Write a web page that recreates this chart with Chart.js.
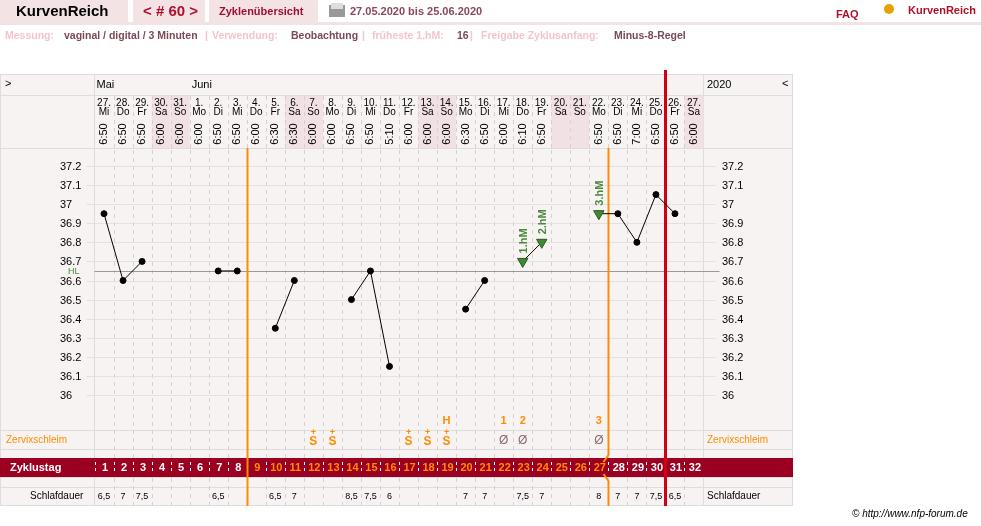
<!DOCTYPE html>
<html><head><meta charset="utf-8">
<script src="https://cdn.jsdelivr.net/npm/chart.js@4"></script>
<style>body{margin:0;background:#fff}canvas{display:block}</style>
</head><body><canvas id="c" width="981" height="526"></canvas>
<script>
const cycleDays = Array.from({length:32},(_,i)=>String(i+1));
const dates = ['27.','28.','29.','30.','31.','1.','2.','3.','4.','5.','6.','7.','8.','9.','10.','11.','12.','13.','14.','15.','16.','17.','18.','19.','20.','21.','22.','23.','24.','25.','26.','27.'];
const weekdays = ['Mi','Do','Fr','Sa','So','Mo','Di','Mi','Do','Fr','Sa','So','Mo','Di','Mi','Do','Fr','Sa','So','Mo','Di','Mi','Do','Fr','Sa','So','Mo','Di','Mi','Do','Fr','Sa'];
const times = ['6:50','6:50','6:50','6:00','6:00','6:00','6:50','6:50','6:00','6:30','6:30','6:00','6:00','6:50','6:50','5:10','6:00','6:00','6:00','6:30','6:50','6:00','6:10','6:50','','','6:50','6:50','7:00','6:50','6:50','6:00'];
const temps = [36.95,36.6,36.7,null,null,null,36.65,36.65,null,36.35,36.6,null,null,36.5,36.65,36.15,null,null,null,36.45,36.6,null,36.7,36.8,null,null,36.95,36.95,36.8,37.05,36.95,null];
const hmDays = {23:'1.hM',24:'2.hM',27:'3.hM'};
const sleep = ['6,5','7','7,5','','','','6,5','','','6,5','7','','','8,5','7,5','6','','','','7','7','','7,5','7','','','8','7','7','7,5','6,5',''];
const mucus = ['','','','','','','','','','','','S+','S+','','','','S+','S+','S+','','','Ø','Ø','','','','Ø','','','','',''];
const marks = {19:'H',22:'1',23:'2',27:'3'};
const yTicks = [36,36.1,36.2,36.3,36.4,36.5,36.6,36.7,36.8,36.9,37,37.1,37.2];
const coverline = 36.65;
const weekendIdx = [3,4,10,11,17,18,24,25,31];

const F='"Liberation Sans", Arial, sans-serif';
const ORANGE='#ff8c00', DRED='#9b0020', GRID='#d8d0d0';

const deco = {
 id:'deco',
 beforeDraw(ch){
  const c=ch.ctx, x=ch.scales.x, y=ch.scales.y, a=ch.chartArea;
  const cw=x.getPixelForValue(1)-x.getPixelForValue(0);
  const L=a.left, R=a.right;
  c.save();
  c.fillStyle='#fff';c.fillRect(0,0,981,526);
  c.fillStyle='#f4e3e5';
  c.fillRect(0,0,128,22);c.fillRect(133,0,72,22);c.fillRect(209,0,109,22);
  c.fillRect(0,22,981,3);
  c.textBaseline='middle';
  c.font='bold 15px '+F;c.fillStyle='#000';c.fillText('KurvenReich',16,12);
  c.fillStyle='#b0102a';c.fillText('< # 60 >',143,12);
  c.font='bold 11px '+F;c.fillStyle='#a01030';c.fillText('Zyklenübersicht',219,12);
  c.fillStyle='#999';c.fillRect(329,5,16,12);c.fillStyle='#ddd';c.fillRect(331,3,12,6);
  c.fillStyle='#8a4858';c.fillText('27.05.2020 bis 25.06.2020',350,12);
  c.fillStyle='#b0102a';c.fillText('FAQ',836,15);c.fillText('KurvenReich',908,11);
  c.fillStyle='#e8a000';c.beginPath();c.arc(889,9,5,0,7);c.fill();
  c.font='bold 10.5px '+F;
  const info=[['Messung:',5,'#f4c4cc'],['vaginal / digital / 3 Minuten',64,'#7a4a55'],['|',205,'#f4c4cc'],['Verwendung:',212,'#f4c4cc'],['Beobachtung',291,'#7a4a55'],['|',362,'#f4c4cc'],['früheste 1.hM:',372,'#f4c4cc'],['16',457,'#7a4a55'],['|',470,'#f4c4cc'],['Freigabe Zyklusanfang:',481,'#f4c4cc'],['Minus-8-Regel',614,'#7a4a55']];
  info.forEach(t=>{c.fillStyle=t[2];c.fillText(t[0],t[1],36);});
  c.fillStyle='#f8f3f3';c.fillRect(0,74,793,432);
  c.strokeStyle='#ddd';c.lineWidth=1;
  c.strokeRect(0.5,74.5,792,431);
  [95.5,148.5,430.5,449.5,458.5,477.5,487.5].forEach(v=>{c.beginPath();c.moveTo(0,v);c.lineTo(793,v);c.stroke();});
  [L,R].forEach(v=>{c.beginPath();c.moveTo(v,74);c.lineTo(v,506);c.stroke();});
  c.fillStyle='#f2e1e4';
  weekendIdx.forEach(i=>{const px=x.getPixelForValue(i);c.fillRect(px-cw/2,96,cw,52);});
  c.fillStyle='#000';c.font='11px '+F;c.textBaseline='middle';
  c.fillText('>',5,84);c.fillText('Mai',L+2,85);c.fillText('Juni',x.getPixelForValue(5)-cw/2+2,85);
  c.fillText('2020',707,85);c.fillText('<',782,84);
  c.textAlign='center';c.font='10px '+F;
  for(let i=0;i<32;i++){
   const px=x.getPixelForValue(i);
   c.fillStyle='#000';
   c.fillText(dates[i],px,103);c.fillText(weekdays[i],px,112);
   if(times[i]){c.save();c.translate(px,134);c.rotate(-Math.PI/2);c.font='11px '+F;c.fillText(times[i],0,0);c.restore();}
  }
  c.strokeStyle=GRID;c.setLineDash([4,4]);
  for(let i=1;i<32;i++){
   const bx=Math.round(L+i*cw)+0.5;
   c.beginPath();c.moveTo(bx,96);c.lineTo(bx,148);c.moveTo(bx,150);c.lineTo(bx,506);c.stroke();
  }
  c.setLineDash([]);
  c.font='11px '+F;
  yTicks.forEach(t=>{
   const py=Math.round(y.getPixelForValue(t))+0.5;
   c.strokeStyle='#e6e0e0';c.beginPath();c.moveTo(L-8,py);c.lineTo(R+12,py);c.stroke();
   const lbl=String(t);
   c.fillStyle='#000';c.textAlign='left';c.fillText(lbl,60,py);c.fillText(lbl,722,py);
  });
  const cy=Math.round(y.getPixelForValue(coverline))+0.5;
  c.strokeStyle='#999';c.beginPath();c.moveTo(L,cy);c.lineTo(R+16,cy);c.stroke();
  c.fillStyle='#4a8a3a';c.font='9px '+F;c.textAlign='left';c.fillText('HL',68,cy);
  c.textAlign='center';c.font='bold 11px '+F;c.fillStyle=ORANGE;
  for(const d in marks){c.fillText(marks[d],x.getPixelForValue(d-1),421);}
  c.font='10px '+F;c.textAlign='left';c.fillStyle=ORANGE;
  c.fillText('Zervixschleim',6,440);c.fillText('Zervixschleim',707,440);
  c.textAlign='center';
  mucus.forEach((m,i)=>{const px=x.getPixelForValue(i);
   if(m==='S+'){c.fillStyle=ORANGE;c.font='bold 12px '+F;c.fillText('S',px,442);c.font='bold 9px '+F;c.fillText('+',px,433);}
   else if(m==='Ø'){c.fillStyle='#8a6a6a';c.font='12px '+F;c.fillText('Ø',px,441);}
  });
  c.fillStyle=DRED;c.fillRect(0,458,793,19);
  c.fillStyle='#fff';c.font='bold 11px '+F;c.textAlign='left';c.fillText('Zyklustag',10,468);
  c.strokeStyle='#fff';c.setLineDash([3,3]);
  for(let i=0;i<32;i++){const bx=Math.round(L+i*cw)+0.5;c.beginPath();c.moveTo(bx,462);c.lineTo(bx,474);c.stroke();}
  c.setLineDash([]);
  c.textAlign='center';
  cycleDays.forEach((d,i)=>{const px=x.getPixelForValue(i);c.fillStyle=(i>=8&&i<=26)?ORANGE:'#fff';c.fillText(d,px+1,468);});
  c.fillStyle='#000';c.font='10px '+F;c.textAlign='left';
  c.fillText('Schlafdauer',30,496);c.fillText('Schlafdauer',707,496);
  c.textAlign='center';c.font='9px '+F;
  sleep.forEach((s,i)=>{if(s)c.fillText(s,x.getPixelForValue(i),497);});
  c.font='italic 10px '+F;c.textAlign='left';c.fillText('© http://www.nfp-forum.de',852,514);
  const b8=Math.round(L+8*cw)+0.5, b27=Math.round(L+27*cw)+0.5, b30=Math.round(L+30*cw)+0.5;
  c.strokeStyle=ORANGE;c.lineWidth=2;
  c.beginPath();c.moveTo(b8,148);c.lineTo(b8,506);c.stroke();
  c.beginPath();c.moveTo(b27,148);c.lineTo(b27,455);c.lineTo(b27-5,462);c.moveTo(b27-5,474);c.lineTo(b27,481);c.lineTo(b27,506);c.stroke();
  c.strokeStyle='#d00010';c.lineWidth=3;
  c.beginPath();c.moveTo(b30,70);c.lineTo(b30,506);c.stroke();
  c.restore();
 },
 afterDatasetsDraw(ch){
  const c=ch.ctx,x=ch.scales.x,y=ch.scales.y;
  c.save();c.fillStyle='#4a8a3a';c.font='bold 11px '+F;c.textAlign='left';c.textBaseline='middle';
  for(const d in hmDays){const px=x.getPixelForValue(d-1),py=y.getPixelForValue(temps[d-1]);
   c.save();c.translate(px+1,py-8);c.rotate(-Math.PI/2);c.fillText(hmDays[d],0,0);c.restore();}
  c.restore();
 }
};

const isHm=temps.map((_,i)=>hmDays[i+1]!==undefined);
new Chart(document.getElementById('c'),{
 type:'line',
 data:{labels:cycleDays,datasets:[{
  data:temps,spanGaps:false,borderColor:'#000',borderWidth:1,
  pointStyle:isHm.map(h=>h?'triangle':'circle'),
  pointRotation:isHm.map(h=>h?180:0),
  pointRadius:isHm.map(h=>h?6:3),
  pointBackgroundColor:isHm.map(h=>h?'#3e8a32':'#000'),
  pointBorderColor:isHm.map(h=>h?'#2a5a20':'#000'),
  pointBorderWidth:1
 }]},
 options:{responsive:false,animation:false,devicePixelRatio:1,
  layout:{padding:{left:94.5,right:277.5,top:148,bottom:96}},
  plugins:{legend:{display:false},tooltip:{enabled:false}},
  scales:{x:{display:false,offset:true},y:{display:false,min:35.817,max:37.294}}
 },
 plugins:[deco]
});
</script></body></html>
